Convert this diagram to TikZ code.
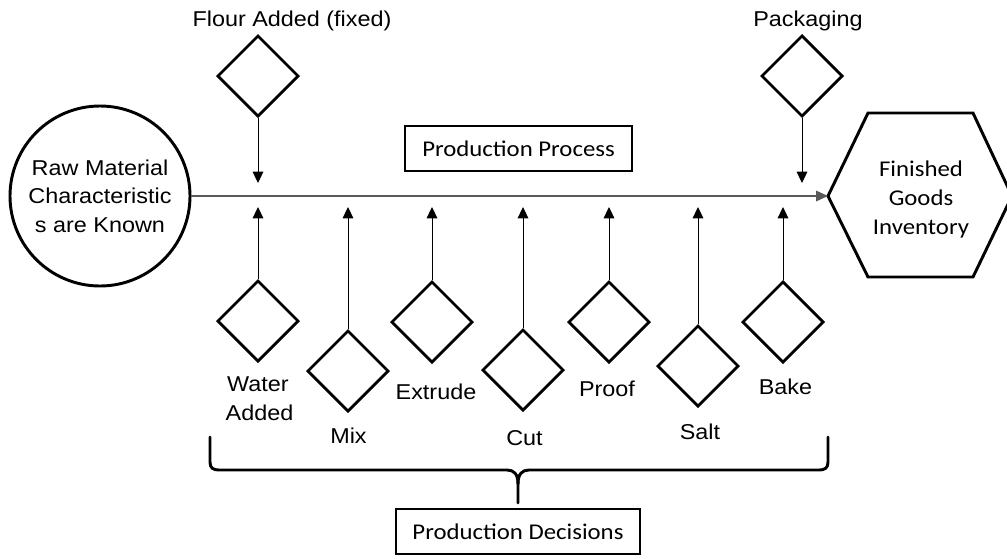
\documentclass[tikz,border=0pt]{standalone}
\usepackage{fontspec}
\setmainfont{Liberation Sans}
\newfontfamily\arialf[FakeStretch=1.09]{Liberation Sans}
\newfontfamily\calf[FakeStretch=1.1]{Carlito}
\usetikzlibrary{shapes.geometric,arrows.meta}
\begin{document}
\begin{tikzpicture}[x=0.75pt,y=-0.75pt,
  dec/.style={draw, diamond, line width=2pt, minimum width=61pt, minimum height=61pt, inner sep=0pt},
  lab/.style={font=\arialf\fontsize{16.1}{21.4}\selectfont, anchor=base, inner sep=0pt},
  cal/.style={font=\calf\fontsize{16.9}{22.1}\selectfont},
  arr/.style={-{Triangle[length=8.5pt,width=8pt]}, line width=0.75pt},
  boxnode/.style={draw, line width=1.5pt, cal, minimum height=33.5pt, inner sep=0pt},
  brace/.style={line width=2.2pt, line cap=round, line join=round}
]
\useasboundingbox (0,0) rectangle (1007,558);
\fill[white] (0,0) rectangle (1007,558);

% raw material circle
\node[draw, circle, line width=2.2pt, minimum size=135pt, inner sep=0pt,
      font=\arialf\fontsize{16.1}{21.4}\selectfont, align=center] (raw) at (100,196)
  {Raw Material\\Characteristic\\s are Known};

% hexagon
\coordinate (hexL) at (828,196);
\draw[line width=2.2pt, line join=miter] (hexL) -- (868,113) -- (973,113) -- (1012,196) -- (973,277) -- (868,277) -- cycle;
\node[cal, align=center, inner sep=0pt] (fin) at (921,199.5) {Finished\\Goods\\Inventory};

% main line
\draw[-{Triangle[length=9pt,width=8pt]}, line width=0.9pt, draw=black!65] (raw.east) -- (hexL);

% boxes
\node[boxnode, minimum width=170pt] (pp) at (518.5,148.5) {Production Process};
\node[boxnode, minimum width=183pt] (pd) at (518,531.5) {Production Decisions};

% top diamonds
\node[dec] (flour) at (258,76) {};
\node[dec] (pack) at (802,76) {};
\node[lab] (flourlab) at (292,26) {Flour Added (fixed)};
\node[lab] (packlab) at (808,26) {Packaging};
\coordinate (tflour) at (258,183);
\coordinate (tpack) at (802,183);
\draw[arr] (flour.south) -- (tflour);
\draw[arr] (pack.south) -- (tpack);

% bottom diamonds
\node[dec] (water) at (258,321) {};
\node[dec] (mix) at (348,371) {};
\node[dec] (extrude) at (432,322) {};
\node[dec] (cut) at (523,370) {};
\node[dec] (proof) at (609,322) {};
\node[dec] (salt) at (698,366) {};
\node[dec] (bake) at (783,322) {};

\foreach \n/\x in {water/258, mix/348, extrude/432, cut/523, proof/609, salt/698, bake/783}{
  \coordinate (t\n) at (\x,207);
  \draw[arr] (\n.north) -- (t\n);
}

% labels
\node[lab] (waterlab) at (258,391.5) {Water};
\node[lab] (addedlab) at (259.5,420.5) {Added};
\node[lab] (mixlab) at (348.5,443) {Mix};
\node[lab] (extrudelab) at (436,399) {Extrude};
\node[lab] (cutlab) at (524.5,445) {Cut};
\node[lab] (prooflab) at (607,396.5) {Proof};
\node[lab] (saltlab) at (700,439) {Salt};
\node[lab] (bakelab) at (785.5,394) {Bake};

% brace
\coordinate (btip) at (518,503);
\draw[brace] (210,437) -- (210,462) .. controls (210,468) and (213,470) .. (219,470) -- (507,470) .. controls (514,470) and (518,474) .. (518,484) -- (btip);
\draw[brace] (828,437) -- (828,462) .. controls (828,468) and (825,470) .. (819,470) -- (529,470) .. controls (522,470) and (518,474) .. (518,484);
\end{tikzpicture}
\end{document}
